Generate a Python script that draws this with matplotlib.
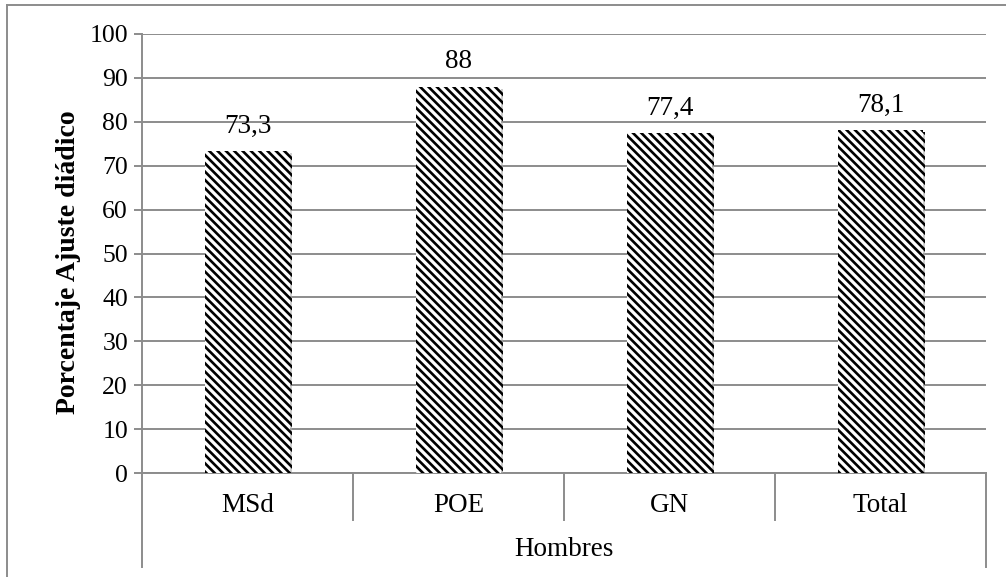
import matplotlib
matplotlib.use("Agg")
import matplotlib.pyplot as plt
import matplotlib.patheffects as pe
from matplotlib.lines import Line2D

categories = ["MSd", "POE", "GN", "Total"]
values = [73.3, 88, 77.4, 78.1]
value_labels = ["73,3", "88", "77,4", "78,1"]
group_label = "Hombres"
y_ticks = [0, 10, 20, 30, 40, 50, 60, 70, 80, 90, 100]
y_label = "Porcentaje Ajuste diádico"

plt.rcParams["font.family"] = ["Liberation Serif", "DejaVu Serif"]
plt.rcParams["hatch.linewidth"] = 1.9

W, H = 1006, 577
fig = plt.figure(figsize=(W / 100, H / 100), dpi=100)
fig.patch.set_facecolor("white")

ax_left, ax_right, ax_top, ax_bottom = 142, 986, 34, 473
ax = fig.add_axes([ax_left / W, 1 - ax_bottom / H,
                   (ax_right - ax_left) / W, (ax_bottom - ax_top) / H])

grey = "#8c8c8c"
fs_tick = 18.5
fs = 19.5

x = list(range(len(categories)))
bars = ax.bar(x, values, width=0.40, color="white", edgecolor="black",
              linewidth=0, hatch="\\\\\\\\", zorder=3)
for b in bars:
    b.set_path_effects([pe.SimplePatchShadow(offset=(1.5, -1.5),
                                             shadow_rgbFace="#b0b0b0",
                                             alpha=0.6),
                        pe.Normal()])

for xi, v, lab in zip(x, values, value_labels):
    ax.annotate(lab, (xi, v), xytext=(0, 9), textcoords="offset points",
                ha="center", va="bottom", fontsize=fs, color="black")

ax.set_xlim(-0.5, len(categories) - 0.5)
ax.set_ylim(0, 100)
ax.set_yticks(y_ticks)
ax.set_yticklabels([str(t) for t in y_ticks], fontsize=fs_tick)
ax.yaxis.grid(True, color=grey, linewidth=1.4, zorder=0)
ax.set_axisbelow(True)
ax.tick_params(axis="y", length=6, width=1.4, color=grey, pad=4)
ax.set_xticks([])

for s in ["top", "right"]:
    ax.spines[s].set_visible(False)
ax.spines["left"].set_color(grey)
ax.spines["left"].set_linewidth(1.4)
ax.spines["bottom"].set_color(grey)
ax.spines["bottom"].set_linewidth(1.4)

ax.set_ylabel(y_label, fontsize=20, fontweight="bold", labelpad=6)
ax.yaxis.label.set_y(0.48)

# hierarchical category axis below the plot
def fy(py):
    return 1 - py / H

def fx(px):
    return px / W

cat_w = (ax_right - ax_left) / len(categories)
for i, c in enumerate(categories):
    cx = ax_left + cat_w * (i + 0.5)
    fig.text(fx(cx), fy(506), c, ha="center", va="center", fontsize=fs)
for i in range(1, len(categories)):
    px = ax_left + cat_w * i
    fig.add_artist(Line2D([fx(px), fx(px)], [fy(473), fy(520)],
                          color=grey, linewidth=1.4))
for px in (ax_left, ax_right):
    fig.add_artist(Line2D([fx(px), fx(px)], [fy(473), fy(567)],
                          color=grey, linewidth=1.4))
fig.text(fx((ax_left + ax_right) / 2), fy(550), group_label,
         ha="center", va="center", fontsize=fs)

# outer chart border
fig.add_artist(Line2D([fx(7), fx(7)], [0, fy(5)], color=grey, linewidth=1.4))
fig.add_artist(Line2D([fx(7), 1], [fy(5), fy(5)], color=grey, linewidth=1.4))

fig.savefig("out.png", dpi=100, facecolor="white")
